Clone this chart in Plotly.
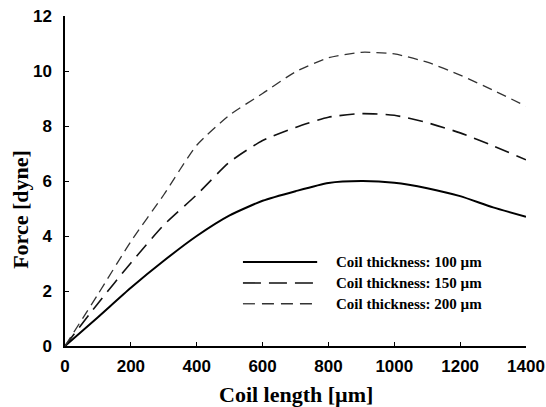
import plotly.graph_objects as go

coil_length = [0, 100, 200, 300, 400, 500, 600, 700, 800, 900, 1000, 1100, 1200, 1300, 1400]
force_100 = [0, 1.05, 2.12, 3.1, 4.0, 4.75, 5.28, 5.63, 5.93, 6.0, 5.94, 5.74, 5.45, 5.04, 4.7]
force_150 = [0, 1.55, 3.02, 4.4, 5.5, 6.69, 7.47, 7.95, 8.32, 8.45, 8.39, 8.12, 7.75, 7.28, 6.77]
force_200 = [0, 1.88, 3.8, 5.5, 7.3, 8.4, 9.18, 9.97, 10.48, 10.68, 10.62, 10.32, 9.85, 9.3, 8.72]
series_names = ["Coil thickness: 100 \u00b5m", "Coil thickness: 150 \u00b5m", "Coil thickness: 200 \u00b5m"]
x_ticks = [0, 200, 400, 600, 800, 1000, 1200, 1400]
y_ticks = [0, 2, 4, 6, 8, 10, 12]
x_title = "Coil length [\u00b5m]"
y_title = "Force [dyne]"

styles = [
    dict(color="#000000", width=2.0, dash="solid"),
    dict(color="#111111", width=1.6, dash="15px,8px"),
    dict(color="#333333", width=1.3, dash="10px,6px"),
]

fig = go.Figure()
for ys, name, st in zip([force_100, force_150, force_200], series_names, styles):
    fig.add_trace(go.Scatter(x=coil_length, y=ys, mode="lines", name=name,
                             line=dict(color=st["color"], width=st["width"], dash=st["dash"], shape="spline", smoothing=0.6),
                             showlegend=False))

# manual legend
legend_dash = ["solid", "18px,8px", "12px,7px"]
rows_y = [0.2547, 0.191, 0.128]
for name, st, dsh, yy in zip(series_names, styles, legend_dash, rows_y):
    fig.add_shape(type="line", xref="paper", yref="paper", x0=0.386, x1=0.547, y0=yy, y1=yy,
                  line=dict(color=st["color"], width=st["width"], dash=dsh))
    fig.add_annotation(xref="paper", yref="paper", x=0.584, y=yy, text=name, showarrow=False,
                       xanchor="left", yanchor="middle",
                       font=dict(family="Liberation Serif", size=15, color="#000000", weight="bold"))

# axis titles
title_font = dict(family="Liberation Serif", size=22, color="black", weight="bold")
fig.add_annotation(xref="paper", yref="paper", x=0.5, y=-0.147, text=x_title, showarrow=False,
                   xanchor="center", yanchor="middle", font=title_font)
fig.add_annotation(xref="paper", yref="paper", x=-0.098, y=0.415, text=y_title, showarrow=False,
                   xanchor="center", yanchor="middle", textangle=-90, font=title_font)

tick_font = dict(family="Liberation Sans", size=17, color="black", weight="bold")
fig.update_layout(
    width=546, height=407,
    margin=dict(l=65, r=20, t=16, b=61),
    paper_bgcolor="white", plot_bgcolor="white",
    xaxis=dict(range=[0, 1400], tickvals=x_ticks, ticks="inside", ticklen=4, tickwidth=1, tickcolor="black",
               showline=True, linecolor="black", linewidth=1.5, showgrid=False, zeroline=False,
               automargin=False, ticklabelstandoff=4, tickfont=tick_font),
    yaxis=dict(range=[0, 12], tickvals=y_ticks, ticks="inside", ticklen=4, tickwidth=1, tickcolor="black",
               showline=True, linecolor="black", linewidth=1.5, showgrid=False, zeroline=False,
               automargin=False, ticklabelstandoff=8, tickfont=tick_font),
)

fig.write_html("out.html", config={"displayModeBar": False},
               post_script="document.body.style.margin='0';document.body.style.padding='0';")
